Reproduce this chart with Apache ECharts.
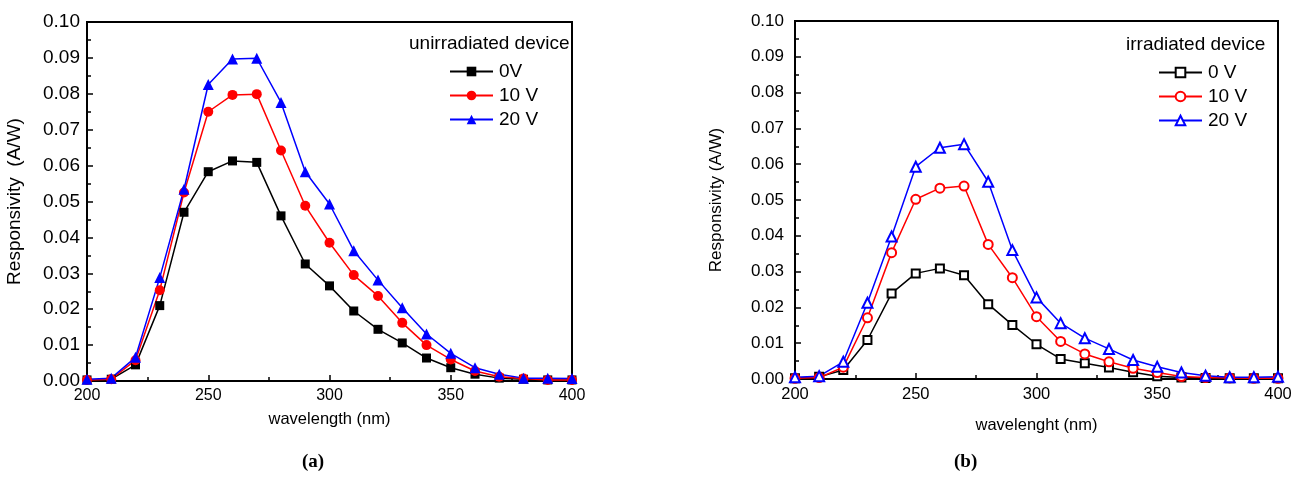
<!DOCTYPE html>
<html>
<head>
<meta charset="utf-8">
<script src="https://cdn.jsdelivr.net/npm/echarts@6/dist/echarts.min.js"></script>
<style>html,body{margin:0;padding:0;background:#fff;}#c{width:1304px;height:485px;}</style>
</head>
<body>
<div id="c"></div>
<script>
var wavelength = [200,210,220,230,240,250,260,270,280,290,300,310,320,330,340,350,360,370,380,390,400];
var xTicks = [200,250,300,350,400];
var yTicks = ['0.00','0.01','0.02','0.03','0.04','0.05','0.06','0.07','0.08','0.09','0.10'];

// (a) unirradiated device
var unirr0V  = [0.0003,0.0005,0.0045,0.021,0.047,0.0583,0.0613,0.0609,0.046,0.0326,0.0265,0.0195,0.0144,0.0106,0.0064,0.0037,0.0019,0.0008,0.0005,0.0003,0.0003];
var unirr10V = [0.0003,0.0005,0.0058,0.0253,0.0525,0.075,0.0797,0.0799,0.0642,0.0488,0.0385,0.0295,0.0237,0.0162,0.010,0.006,0.0028,0.0012,0.0007,0.0003,0.0003];
var unirr20V = [0.0005,0.0008,0.0066,0.0288,0.0534,0.0826,0.0897,0.0899,0.0776,0.0583,0.0493,0.0363,0.0281,0.0204,0.0131,0.0077,0.0037,0.0019,0.0008,0.0008,0.0007];

// (b) irradiated device
var irr0V  = [0.0002,0.0006,0.0025,0.0109,0.0239,0.0295,0.0309,0.029,0.0209,0.0151,0.0097,0.0056,0.0044,0.0032,0.0019,0.0008,0.0004,0.0003,0.0002,0.0002,0.0002];
var irr10V = [0.0002,0.0004,0.0033,0.0171,0.0353,0.0502,0.0533,0.0539,0.0376,0.0283,0.0174,0.0105,0.007,0.0048,0.003,0.0018,0.0007,0.0004,0.0003,0.0002,0.0002];
var irr20V = [0.0005,0.0008,0.0048,0.0213,0.0398,0.0593,0.0646,0.0656,0.0551,0.036,0.0228,0.0156,0.0114,0.0084,0.0053,0.0034,0.0018,0.0009,0.0005,0.0005,0.0006];

var legendLabels = {a0:'0V', a10:'10 V', a20:'20 V', b0:'0 V', b10:'10 V', b20:'20 V'};

function pairs(vals){ return wavelength.map(function(x,i){ return [x, vals[i]]; }); }

var FONT = 'Liberation Sans, Arial, sans-serif';

function xAxis(idx, name, gap, nameSize, labelSize){
  return {
    type:'value', gridIndex:idx, min:200, max:400, interval:50,
    name:name, nameLocation:'middle', nameGap:gap,
    nameTextStyle:{fontFamily:FONT, fontSize:nameSize, color:'#000'},
    axisLine:{show:true, onZero:false, lineStyle:{color:'#000', width:2}},
    axisTick:{show:true, inside:true, length:6, lineStyle:{color:'#000', width:1.5}},
    minorTick:{show:true, splitNumber:2, length:4, lineStyle:{color:'#000', width:1.5}},
    axisLabel:{fontFamily:FONT, fontSize:labelSize, color:'#000', margin:7,
      formatter:function(v){ return xTicks.indexOf(v) >= 0 ? String(v) : ''; }},
    splitLine:{show:false}
  };
}
function yAxis(idx, name, gap, nameSize, labelSize, margin){
  return {
    type:'value', gridIndex:idx, min:0, max:0.1, interval:0.01,
    name:name, nameLocation:'middle', nameGap:gap,
    nameTextStyle:{fontFamily:FONT, fontSize:nameSize, color:'#000'},
    axisLine:{show:true, onZero:false, lineStyle:{color:'#000', width:2}},
    axisTick:{show:true, inside:true, length:6, lineStyle:{color:'#000', width:1.5}},
    minorTick:{show:true, splitNumber:2, length:4, lineStyle:{color:'#000', width:1.5}},
    axisLabel:{fontFamily:FONT, fontSize:labelSize, color:'#000', margin:margin,
      formatter:function(v){ return yTicks[Math.round(v*100)]; }},
    splitLine:{show:false}
  };
}
function ser(name, idx, vals, color, symbol, size){
  return {
    name:name, type:'line', xAxisIndex:idx, yAxisIndex:idx,
    data:pairs(vals), symbol:symbol, symbolSize:size, showAllSymbol:true,
    lineStyle:{color:color, width:1.5},
    itemStyle:{color:color, borderColor:color, borderWidth: symbol.indexOf('empty')===0 ? 1.3 : 0},
    emphasis:{disabled:true}, animation:false
  };
}

var captionRich = {n:{fontFamily:'Liberation Serif, serif', fontSize:19, color:'#000'},
                   b:{fontFamily:'Liberation Serif, serif', fontSize:19, fontWeight:'bold', color:'#000'}};

var chart = echarts.init(document.getElementById('c'), null, {renderer:'canvas'});
chart.setOption({
  animation:false,
  backgroundColor:'#fff',
  title:[
    {text:'unirradiated device', left:409, top:34, padding:0,
     textStyle:{fontFamily:FONT, fontSize:19, fontWeight:'normal', color:'#000'}},
    {text:'irradiated device', left:1126, top:35, padding:0,
     textStyle:{fontFamily:FONT, fontSize:19, fontWeight:'normal', color:'#000'}},
    {text:'{n|(}{b|a}{n|)}', left:302, top:453, padding:0, textStyle:{rich:captionRich}},
    {text:'{n|(}{b|b}{n|)}', left:954, top:453, padding:0, textStyle:{rich:captionRich}}
  ],
  legend:[
    {data:['a0','a10','a20'], orient:'vertical', left:449, top:62, padding:0,
     itemWidth:43, itemHeight:12, itemGap:5, selectedMode:false,
     formatter:function(n){ return legendLabels[n]; },
     textStyle:{fontFamily:FONT, fontSize:19, color:'#000', padding:[0,0,0,1]}},
    {data:['b0','b10','b20'], orient:'vertical', left:1158, top:63, padding:0,
     itemWidth:43, itemHeight:12, itemGap:5, selectedMode:false,
     formatter:function(n){ return legendLabels[n]; },
     textStyle:{fontFamily:FONT, fontSize:19, color:'#000', padding:[0,0,0,1]}}
  ],
  grid:[
    {left:87, top:22, width:485, height:359, show:true, borderColor:'#000', borderWidth:2, backgroundColor:'transparent'},
    {left:795, top:21, width:483, height:358, show:true, borderColor:'#000', borderWidth:2, backgroundColor:'transparent'}
  ],
  xAxis:[xAxis(0,'wavelength (nm)',30,16.5,16), xAxis(1,'wavelenght (nm)',38,16.5,16.5)],
  yAxis:[yAxis(0,'Responsivity  (A/W)',63,19,19,7), yAxis(1,'Responsivity (A/W)',70,17,17,11)],
  series:[
    ser('a0', 0, unirr0V, '#000000', 'rect', 9),
    ser('a10',0, unirr10V,'#ff0000', 'circle', 10),
    ser('a20',0, unirr20V,'#0000ff', 'triangle', 11),
    ser('b0', 1, irr0V,  '#000000', 'emptyRect', 8),
    ser('b10',1, irr10V, '#ff0000', 'emptyCircle', 9),
    ser('b20',1, irr20V, '#0000ff', 'emptyTriangle', 10)
  ]
});
</script>
</body>
</html>
